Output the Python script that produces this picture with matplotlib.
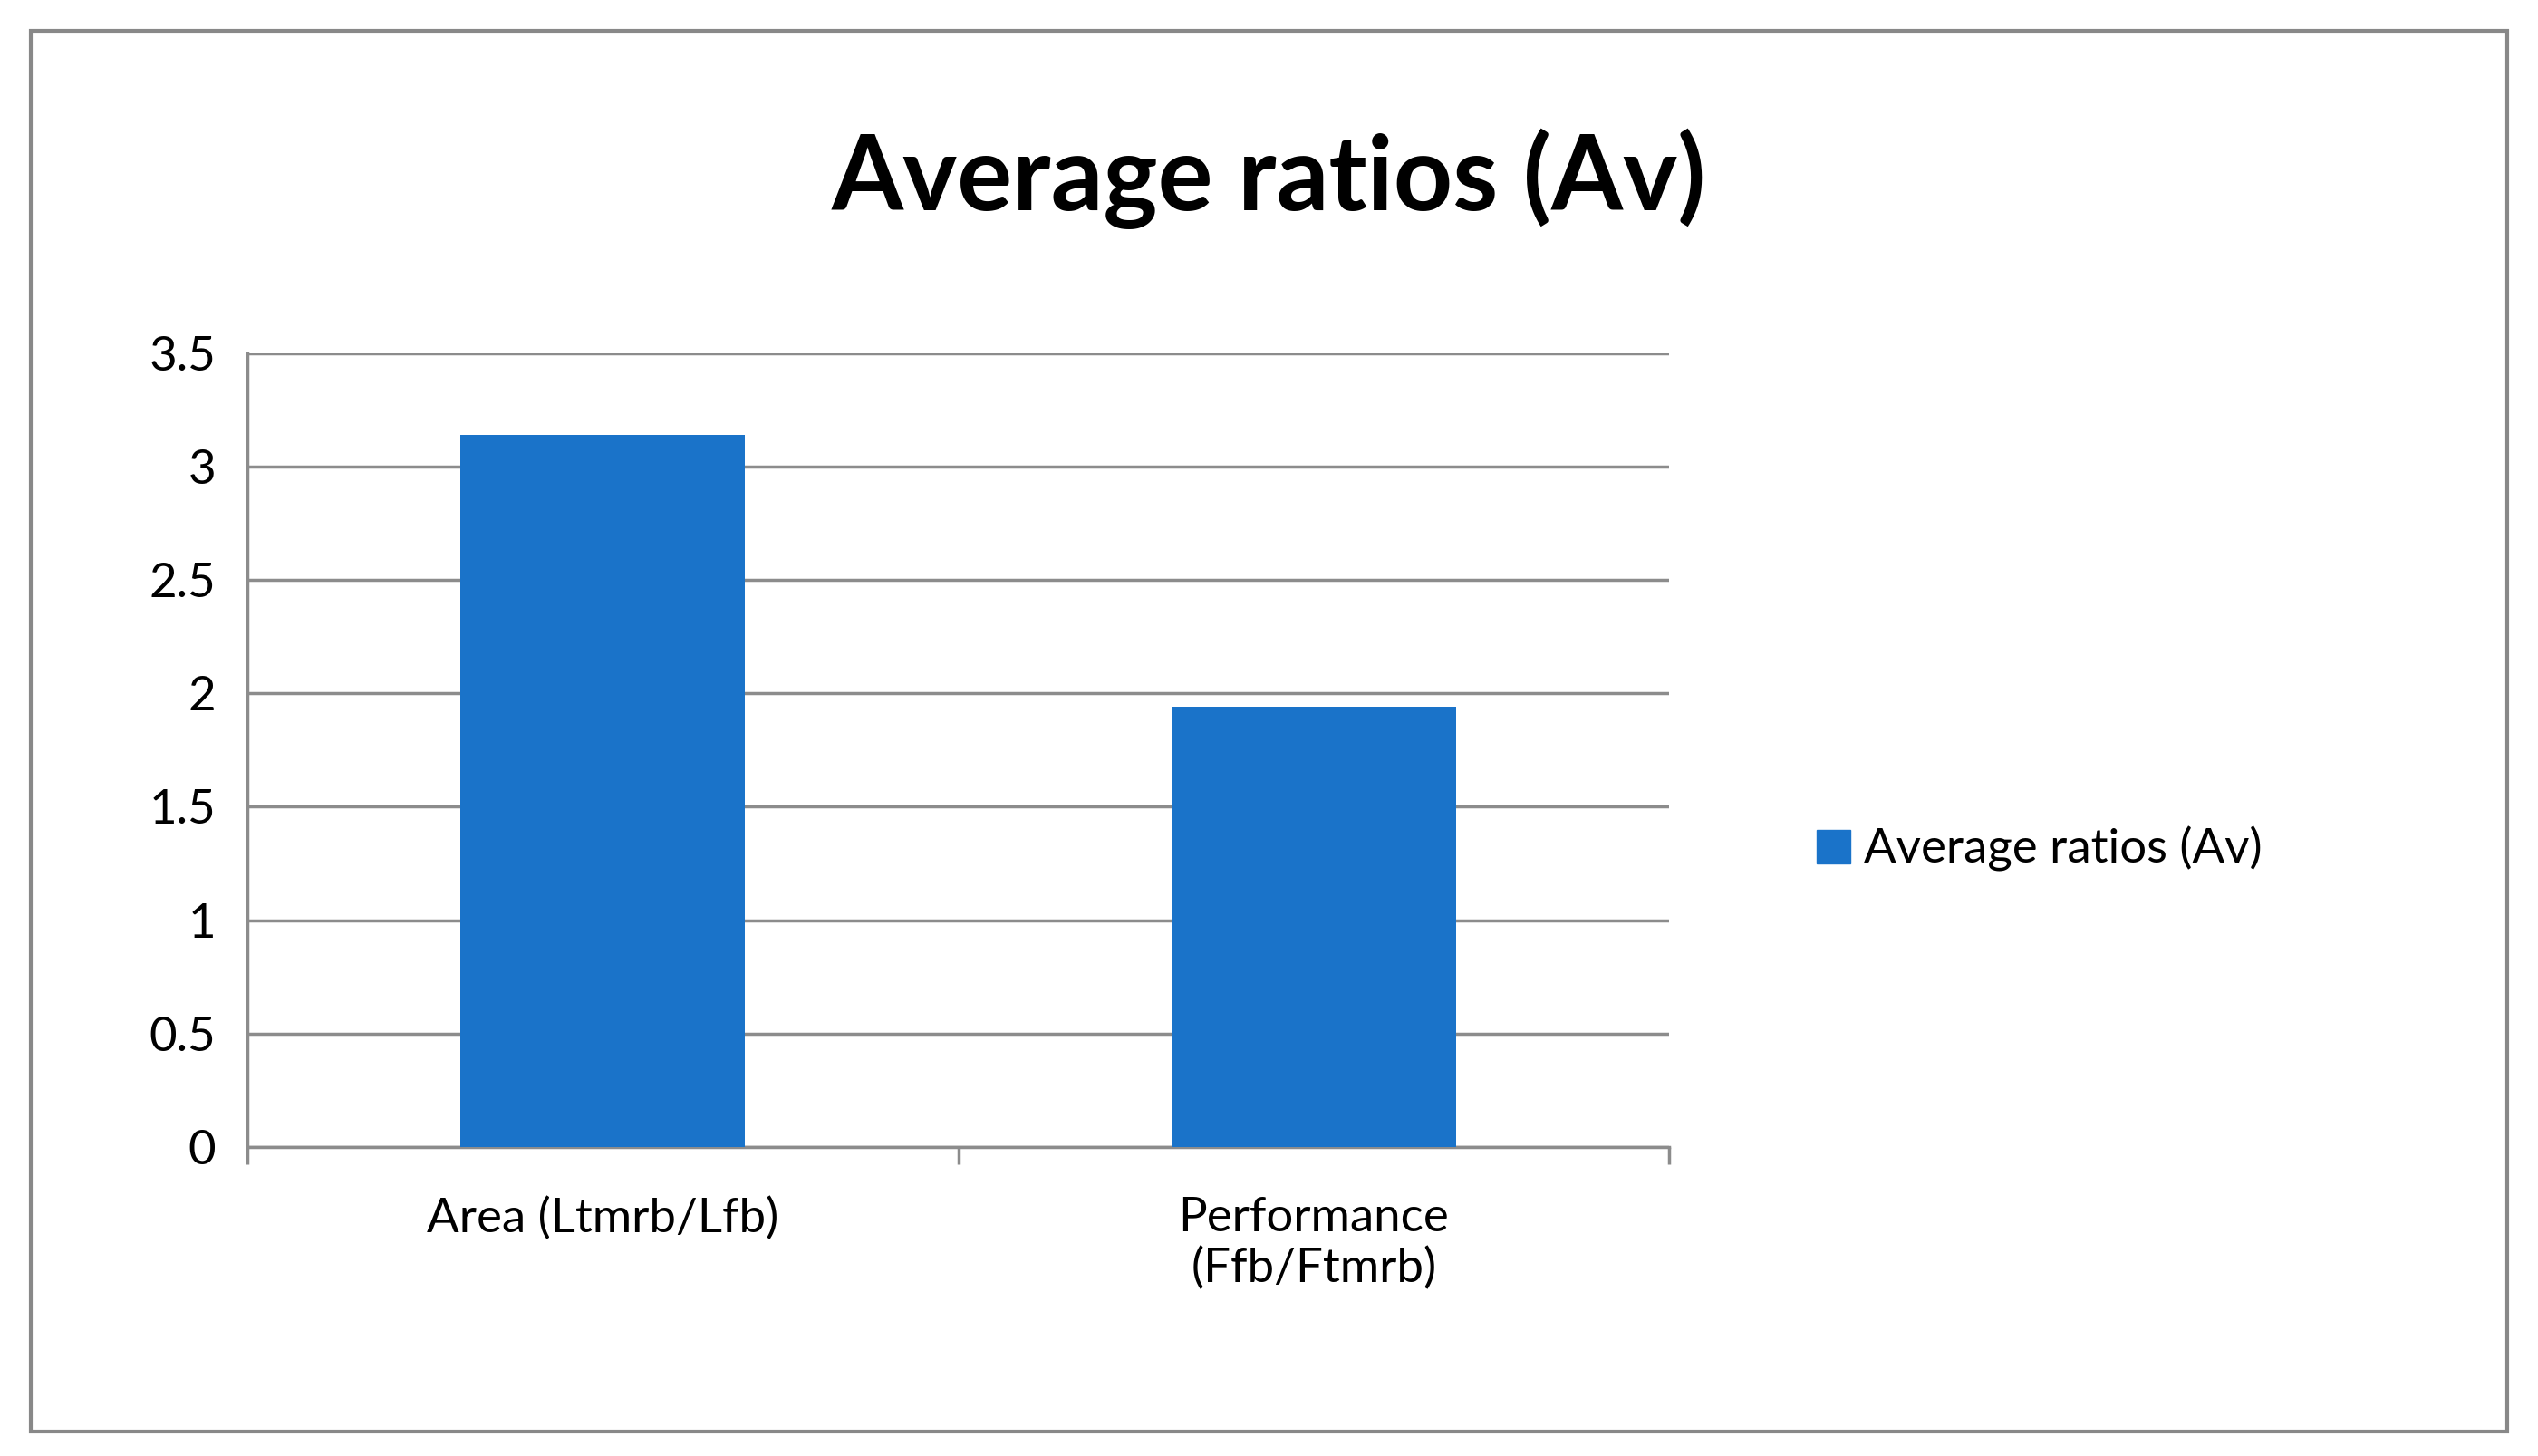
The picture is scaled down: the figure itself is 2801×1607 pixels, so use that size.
import matplotlib.pyplot as plt
from matplotlib.patches import Rectangle, Patch

plt.rcParams['font.family'] = ['Lato', 'DejaVu Sans']

categories = ["Area (Ltmrb/Lfb)", "Performance\n(Ffb/Ftmrb)"]
values = [3.14, 1.94]
series_name = "Average ratios (Av)"
bar_color = "#1a73c9"

fig = plt.figure(figsize=(28.01, 16.07), dpi=100)
fig.patches.append(Rectangle((19 / 1560, 1 - 880 / 895), 1522 / 1560, 861 / 895,
                             transform=fig.transFigure, fill=False,
                             edgecolor="#888888", linewidth=3))

ax = fig.add_axes([152 / 1560, 1 - 705 / 895, 874 / 1560, 488 / 895])
x = range(len(categories))
ax.bar(x, values, width=0.4, color=bar_color, zorder=3)
ax.set_xlim(-0.5, len(categories) - 0.5)
ax.set_ylim(0, 3.5)
ax.set_yticks([0, 0.5, 1, 1.5, 2, 2.5, 3, 3.5])
ax.set_yticklabels(["0", "0.5", "1", "1.5", "2", "2.5", "3", "3.5"])
ax.yaxis.grid(True, color="#8c8c8c", linewidth=2.5, zorder=0)
ax.tick_params(axis="y", length=0, labelsize=38, pad=25)
ax.set_xticks(list(x))
ax.set_xticklabels(categories)
ax.set_xticks([-0.5, 0.5, 1.5], minor=True)
ax.tick_params(axis="x", which="major", length=0, labelsize=38, pad=40)
ax.tick_params(axis="x", which="minor", length=14, width=2.5, color="#8c8c8c")
for s in ["top", "right"]:
    ax.spines[s].set_visible(False)
for s in ["left", "bottom"]:
    ax.spines[s].set_color("#8c8c8c")
    ax.spines[s].set_linewidth(2.5)

fig.text(0.5, 1 - 110 / 895, "Average ratios (Av)", ha="center", va="center",
         fontsize=82, fontweight="bold")

fig.legend(handles=[Patch(color=bar_color, label=series_name)],
           loc="center left", bbox_to_anchor=(1090 / 1560, 1 - 522 / 895),
           frameon=False, fontsize=38, handlelength=0.7, handleheight=0.7,
           handletextpad=0.3)

fig.savefig("out.png", dpi=100)
